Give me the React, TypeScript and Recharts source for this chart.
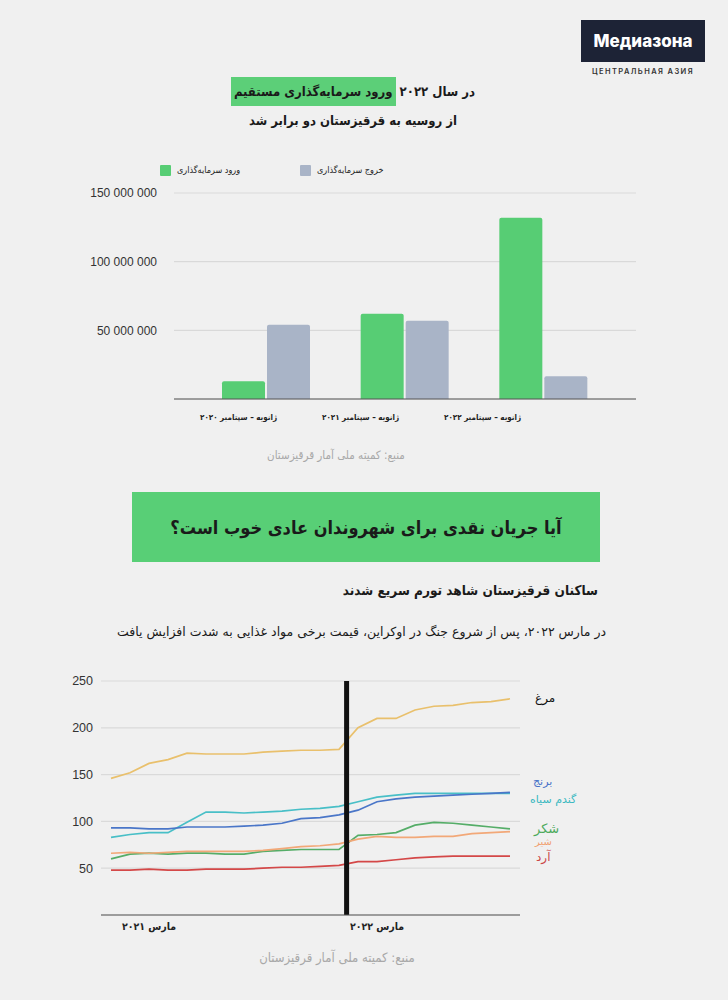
import {
  BarChart,
  Bar,
  LineChart,
  Line,
  XAxis,
  YAxis,
  CartesianGrid,
  ReferenceLine,
} from "recharts";

// --- investment chart data ---
const periods = [
  "ژانویه – سپتامبر ۲۰۲۰",
  "ژانویه – سپتامبر ۲۰۲۱",
  "ژانویه – سپتامبر ۲۰۲۲",
];
const inflow = [13000000, 62000000, 132000000];
const outflow = [54000000, 57000000, 16500000];
const investTicks = [50000000, 100000000, 150000000];

// --- food price data, monthly Jan 2021 .. Oct 2022 ---
const months = [
  "2021-01", "2021-02", "2021-03", "2021-04", "2021-05", "2021-06",
  "2021-07", "2021-08", "2021-09", "2021-10", "2021-11", "2021-12",
  "2022-01", "2022-02", "2022-03", "2022-04", "2022-05", "2022-06",
  "2022-07", "2022-08", "2022-09", "2022-10",
];
const eggs = [146, 152, 162, 166, 173, 172, 172, 172, 174, 175, 176, 176, 177, 200, 210, 210, 219, 223, 224, 227, 228, 231];
const buckwheat = [83, 86, 88, 88, 99, 110, 110, 109, 110, 111, 113, 114, 116, 121, 126, 128, 130, 130, 130, 130, 130, 130];
const rice = [93, 93, 92, 92, 94, 94, 94, 95, 96, 98, 103, 104, 107, 112, 121, 124, 126, 127, 128, 129, 130, 131];
const sugar = [60, 65, 66, 65, 66, 66, 65, 65, 68, 69, 70, 70, 70, 85, 86, 88, 96, 99, 98, 96, 94, 92];
const milk = [66, 67, 66, 67, 68, 68, 68, 68, 69, 71, 73, 74, 76, 81, 84, 83, 83, 84, 84, 87, 88, 89];
const flour = [48, 48, 49, 48, 48, 49, 49, 49, 50, 51, 51, 52, 53, 57, 57, 59, 61, 62, 63, 63, 63, 63];
const priceTicks = [50, 100, 150, 200, 250];
const marchMonths = ["2021-03", "2022-03"];
const marchLabels = ["مارس ۲۰۲۱", "مارس ۲۰۲۲"];
const warMark = 12.4; // month index of the black marker

const investData = periods.map((p, i) => ({
  period: p,
  inflow: inflow[i],
  outflow: outflow[i],
}));

const priceData = months.map((m, i) => ({
  i,
  month: m,
  eggs: eggs[i],
  buckwheat: buckwheat[i],
  rice: rice[i],
  sugar: sugar[i],
  milk: milk[i],
  flour: flour[i],
}));

const xTicks = marchMonths.map((m) => months.indexOf(m));

const fmtBig = (n: number) => String(n).replace(/\B(?=(\d{3})+(?!\d))/g, " ");

const FA = "'DejaVu Sans', sans-serif";
const FA_C = "'DejaVu Sans Condensed', 'DejaVu Sans', sans-serif";
const NUM = "'Liberation Sans', Arial, sans-serif";

function PeriodTick(props: any) {
  const { x, y, payload } = props;
  // labels sit a bit left of their bar groups in the source
  return (
    <text
      x={x * 0.88 - 3}
      y={y + 13}
      textAnchor="middle"
      fontSize={8}
      fontWeight="bold"
      fontFamily={FA_C}
      fill="#222"
      direction="rtl"
    >
      {payload.value}
    </text>
  );
}

function SeriesLabel({ text, color, left, top, size }: any) {
  return (
    <div
      dir="rtl"
      style={{
        position: "absolute",
        left,
        top,
        color,
        fontSize: size,
        lineHeight: "1",
        transform: "translateY(-50%)",
        whiteSpace: "nowrap",
      }}
    >
      {text}
    </div>
  );
}

export default function App() {
  return (
    <div
      style={{
        position: "absolute",
        left: 0,
        top: 0,
        width: 728,
        height: 1000,
        background: "#f0f0f0",
        overflow: "hidden",
        fontFamily: FA,
        color: "#1a1a1a",
      }}
    >
      {/* logo */}
      <div
        style={{
          position: "absolute",
          left: 581,
          top: 20,
          width: 124,
          height: 42,
          background: "#1d2336",
          color: "#fff",
          fontFamily: "Inter, Roboto, sans-serif",
          fontWeight: 800,
          fontSize: 17,
          display: "flex",
          alignItems: "center",
          justifyContent: "center",
        }}
      >
        Медиазона
      </div>
      <div
        style={{
          position: "absolute",
          left: 581,
          top: 67,
          width: 124,
          textAlign: "center",
          fontFamily: "Inter, Roboto, sans-serif",
          fontSize: 7.5,
          fontWeight: 600,
          letterSpacing: 1.4,
          color: "#333",
        }}
      >
        ЦЕНТРАЛЬНАЯ АЗИЯ
      </div>

      {/* title of investment chart */}
      <div
        dir="rtl"
        style={{
          position: "absolute",
          left: 153,
          top: 77,
          width: 400,
          textAlign: "center",
          fontFamily: FA_C,
          fontWeight: "bold",
          fontSize: 13,
          lineHeight: "29px",
          whiteSpace: "nowrap",
        }}
      >
        <div>
          در سال ۲۰۲۲{" "}
          <span style={{ background: "#5ccf78", padding: "0 3px", display: "inline-block" }}>
            ورود سرمایه‌گذاری مستقیم
          </span>
        </div>
        <div>از روسیه به قرقیزستان دو برابر شد</div>
      </div>

      {/* legend */}
      <div style={{ position: "absolute", left: 160, top: 165, width: 11, height: 11, background: "#57cd74", borderRadius: 1 }} />
      <div dir="rtl" style={{ position: "absolute", left: 177, top: 165, fontSize: 9, fontFamily: FA_C, color: "#222" }}>
        ورود سرمایه‌گذاری
      </div>
      <div style={{ position: "absolute", left: 300, top: 165, width: 11, height: 11, background: "#a9b4c7", borderRadius: 1 }} />
      <div dir="rtl" style={{ position: "absolute", left: 317, top: 165, fontSize: 9, fontFamily: FA_C, color: "#222" }}>
        خروج سرمایه‌گذاری
      </div>

      <div style={{ position: "absolute", left: 60, top: 180 }}>
        <BarChart
          width={600}
          height={249}
          data={investData}
          margin={{ top: 13, right: 24, left: 10, bottom: 0 }}
          barGap={2}
        >
          <CartesianGrid vertical={false} stroke="#d9d9d9" strokeWidth={1.2} />
          <XAxis
            dataKey="period"
            axisLine={{ stroke: "#555" }}
            tickLine={false}
            interval={0}
            padding={{ left: 23, right: 23 }}
            height={30}
            tick={<PeriodTick />}
          />
          <YAxis
            width={104}
            domain={[0, 150000000]}
            ticks={investTicks}
            axisLine={false}
            tickLine={false}
            tickMargin={11}
            tickFormatter={fmtBig}
            tick={{ fontSize: 12, fill: "#333", fontFamily: NUM }}
          />
          <Bar dataKey="inflow" fill="#57cd74" barSize={43} radius={[2, 2, 0, 0]} isAnimationActive={false} />
          <Bar dataKey="outflow" fill="#a9b4c7" barSize={43} radius={[2, 2, 0, 0]} isAnimationActive={false} />
        </BarChart>
      </div>

      <div
        dir="rtl"
        style={{ position: "absolute", left: 136, top: 448, width: 400, textAlign: "center", fontSize: 11.5, fontFamily: FA_C, color: "#a8a8a8" }}
      >
        منبع: کمیته ملی آمار قرقیزستان
      </div>

      {/* section banner */}
      <div
        dir="rtl"
        style={{
          position: "absolute",
          left: 132,
          top: 492,
          width: 468,
          height: 70,
          background: "#58cf76",
          display: "flex",
          alignItems: "center",
          justifyContent: "center",
          fontFamily: FA_C,
          fontWeight: "bold",
          fontSize: 18,
          whiteSpace: "nowrap",
        }}
      >
        آیا جریان نقدی برای شهروندان عادی خوب است؟
      </div>

      <div
        dir="rtl"
        style={{
          position: "absolute",
          left: 198,
          top: 582,
          width: 400,
          textAlign: "right",
          fontFamily: FA_C,
          fontWeight: "bold",
          fontSize: 13.5,
          whiteSpace: "nowrap",
        }}
      >
        ساکنان قرقیزستان شاهد تورم سریع شدند
      </div>
      <div
        dir="rtl"
        style={{ position: "absolute", left: 56, top: 624, width: 550, textAlign: "right", fontSize: 12.5, whiteSpace: "nowrap" }}
      >
        در مارس ۲۰۲۲، پس از شروع جنگ در اوکراین، قیمت برخی مواد غذایی به شدت افزایش یافت
      </div>

      <div style={{ position: "absolute", left: 20, top: 660 }}>
        <LineChart
          width={560}
          height={290}
          data={priceData}
          margin={{ top: 21, right: 60, left: 0, bottom: 5 }}
        >
          <CartesianGrid vertical={false} stroke="#dadada" strokeWidth={1.2} />
          <XAxis
            type="number"
            dataKey="i"
            domain={[0, months.length - 1]}
            ticks={xTicks}
            tickFormatter={(v: number) => marchLabels[xTicks.indexOf(v)]}
            padding={{ left: 10, right: 10 }}
            axisLine={{ stroke: "#555", strokeWidth: 1.2 }}
            tickLine={false}
            height={30}
            tick={{ fontSize: 10.5, fontWeight: "bold", fill: "#222", fontFamily: FA_C }}
          />
          <YAxis
            width={81}
            domain={[0, 250]}
            ticks={priceTicks}
            axisLine={false}
            tickLine={false}
            tick={{ fontSize: 12.5, fill: "#333", fontFamily: NUM }}
          />
          <Line type="linear" dataKey="eggs" stroke="#e9c06c" strokeWidth={1.7} dot={false} isAnimationActive={false} />
          <Line type="linear" dataKey="buckwheat" stroke="#48bfc7" strokeWidth={1.7} dot={false} isAnimationActive={false} />
          <Line type="linear" dataKey="rice" stroke="#4a76c8" strokeWidth={1.7} dot={false} isAnimationActive={false} />
          <Line type="linear" dataKey="sugar" stroke="#55ad68" strokeWidth={1.7} dot={false} isAnimationActive={false} />
          <Line type="linear" dataKey="milk" stroke="#f2a878" strokeWidth={1.7} dot={false} isAnimationActive={false} />
          <Line type="linear" dataKey="flour" stroke="#d44848" strokeWidth={1.7} dot={false} isAnimationActive={false} />
          <ReferenceLine x={warMark} stroke="#111" strokeWidth={5} />
        </LineChart>
      </div>

      <SeriesLabel text="مرغ" color="#111" left={535} top={698} size={12} />
      <SeriesLabel text="برنج" color="#4a74c9" left={533} top={781} size={11} />
      <SeriesLabel text="گندم سیاه" color="#3ab8c0" left={530} top={799} size={11} />
      <SeriesLabel text="شکر" color="#4caa5c" left={534} top={828} size={13} />
      <SeriesLabel text="شیر" color="#f0a070" left={535} top={842} size={10} />
      <SeriesLabel text="آرد" color="#cc4848" left={536} top={857} size={12} />

      <div
        dir="rtl"
        style={{ position: "absolute", left: 137, top: 950, width: 400, textAlign: "center", fontSize: 13, fontFamily: FA_C, color: "#a8a8a8" }}
      >
        منبع: کمیته ملی آمار قرقیزستان
      </div>
    </div>
  );
}
